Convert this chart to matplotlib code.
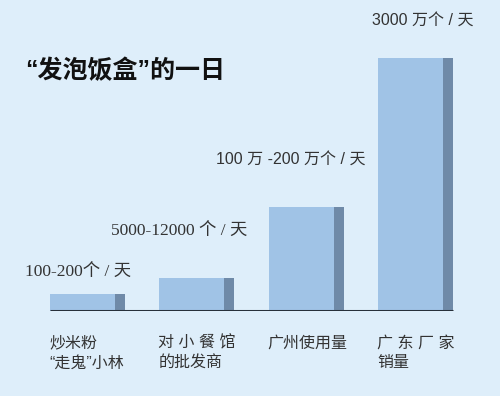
import matplotlib
matplotlib.use("Agg")
import matplotlib.pyplot as plt
import numpy as np

# ---- data (bar heights, in display units) ----
categories_line1 = ["炒米粉", "对 小 餐 馆", "广州使用量", "广 东 厂 家"]
categories_line2 = ["“走鬼”小林", "的批发商", "", "销量"]
heights = [17, 33, 104, 253]
value_labels = ["100-200个 / 天", "5000-12000 个 / 天", "100 万 -200 万个 / 天", "3000 万个 / 天"]
title = "“发泡饭盒”的一日"

# ---- style ----
BG = "#deeefa"
FRONT = "#a0c3e6"
SIDE = "#6f8aa8"
TXT = "#333333"
CJK = "Noto Sans CJK SC"

W, H = 500, 396
fig = plt.figure(figsize=(W / 100, H / 100), dpi=100, facecolor=BG)
base_px = 311  # baseline (pixels from top)
ax = fig.add_axes([0, (H - base_px) / H, 1, base_px / H])
ax.set_facecolor(BG)
step = 109.33
ax.set_xlim(-87.5 / step, (W - 87.5) / step)
ax.set_ylim(0, base_px)
ax.axis("off")

x = np.arange(len(heights))
front_w = 65 / step
side_w = 10 / step
total_w = front_w + side_w
left = x - total_w / 2

ax.bar(left, heights, width=front_w, align="edge", color=FRONT, linewidth=0, zorder=2)
ax.bar(left + front_w, heights, width=side_w, align="edge", color=SIDE, linewidth=0, zorder=2)
ax.hlines(0, left[0], left[-1] + total_w, color="#27303a", linewidth=2.2, zorder=3)

# value labels
val_offsets = [(-25, 21), (-48, 46), (-53, 47), (-6, 37)]
val_fonts = [["Liberation Serif", CJK], ["Liberation Serif", CJK], ["Liberation Sans", CJK], ["Liberation Sans", CJK]]
val_sizes = [12.5, 12.5, 11.5, 11.5]
for i in range(len(heights)):
    ax.annotate(value_labels[i], xy=(left[i], heights[i]), xytext=val_offsets[i],
                textcoords="offset pixels", ha="left", va="center",
                fontsize=val_sizes[i], color=TXT, family=val_fonts[i], annotation_clip=False)

# category labels
for i in range(len(heights)):
    ax.annotate(categories_line1[i], xy=(left[i], 0), xytext=(-1, -32),
                textcoords="offset pixels", ha="left", va="center",
                fontsize=11.5, color=TXT, family=["Liberation Sans", CJK], annotation_clip=False)
    if categories_line2[i]:
        ax.annotate(categories_line2[i], xy=(left[i], 0), xytext=(-1, -52),
                    textcoords="offset pixels", ha="left", va="center",
                    fontsize=11.5, color=TXT, family=["Liberation Sans", CJK], annotation_clip=False)

fig.text(25 / W, 1 - 71 / H, title, ha="left", va="center", fontsize=18,
         fontweight="bold", color="#111111", family=["Liberation Sans", CJK])

fig.savefig("out.png", dpi=100, facecolor=BG)
